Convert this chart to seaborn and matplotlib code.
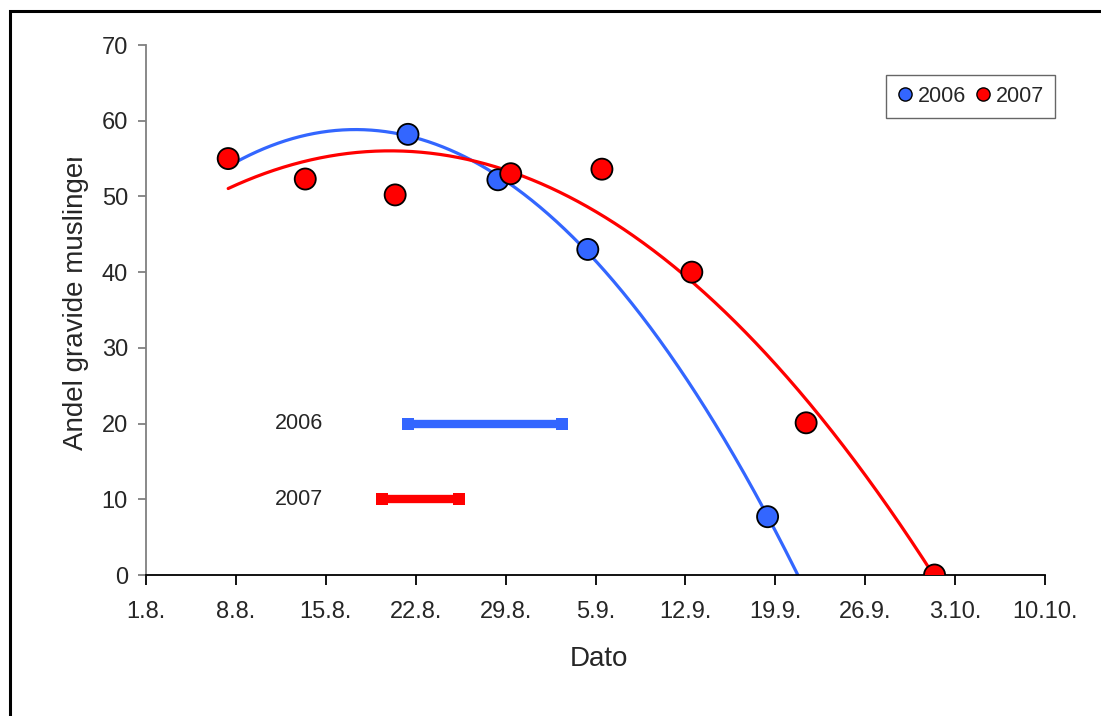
import numpy as np
import pandas as pd
import matplotlib
matplotlib.use("Agg")
import matplotlib.pyplot as plt
from matplotlib.patches import Rectangle
from matplotlib.lines import Line2D
from matplotlib.transforms import Bbox
import seaborn as sns

# ---- data (x = days after 1 August) ----
years = ["2006", "2007"]
days_2006 = [20.4, 27.4, 34.4, 48.4]
share_2006 = [58.2, 52.2, 43.0, 7.7]
days_2007 = [6.4, 12.4, 19.4, 28.4, 35.5, 42.5, 51.4, 61.4]
share_2007 = [55.0, 52.3, 50.2, 53.0, 53.6, 40.0, 20.1, 0.0]
period_2006 = [20.4, 32.4]
period_2007 = [18.4, 24.4]
period_levels = [20, 10]
tick_days = [0, 7, 14, 21, 28, 35, 42, 49, 56, 63, 70]
tick_labels = ["1.8.", "8.8.", "15.8.", "22.8.", "29.8.", "5.9.", "12.9.",
               "19.9.", "26.9.", "3.10.", "10.10."]
y_ticks = [0, 10, 20, 30, 40, 50, 60, 70]

BLUE = "#3366FF"
RED = "#FF0000"
colors = {"2006": BLUE, "2007": RED}

sns.set_style("white")
plt.rcParams["font.family"] = ["Liberation Sans", "DejaVu Sans"]

W, H = 1101, 716
fig = plt.figure(figsize=(W / 100, H / 100), dpi=100)
ax = fig.add_axes([146 / W, 1 - 575 / H, (1045 - 146) / W, (575 - 45) / H])

# ---- polynomial trend lines (order 2) ----
start = min(days_2006 + days_2007)
for yr, dx, dy in [("2006", days_2006, share_2006), ("2007", days_2007, share_2007)]:
    coef = np.polyfit(dx, dy, 2)
    grid = np.linspace(start, 70, 800)
    fit = np.polyval(coef, grid)
    keep = fit >= 0
    idx = np.argmax(~keep) if (~keep).any() else len(grid)
    sns.lineplot(x=grid[:idx], y=fit[:idx], color=colors[yr], lw=2.3,
                 ax=ax, zorder=2, legend=False)

# ---- data points ----
df = pd.DataFrame({
    "day": days_2006 + days_2007,
    "share": share_2006 + share_2007,
    "year": ["2006"] * len(days_2006) + ["2007"] * len(days_2007),
})
sns.scatterplot(data=df, x="day", y="share", hue="year", palette=colors,
                s=230, edgecolor="black", linewidth=1.3, zorder=3, ax=ax,
                legend=False)

# ---- period bars ----
for yr, per, lvl in [("2006", period_2006, period_levels[0]),
                     ("2007", period_2007, period_levels[1])]:
    sns.lineplot(x=per, y=[lvl, lvl], color=colors[yr], lw=6,
                 marker="s", markersize=8, markeredgewidth=0,
                 ax=ax, zorder=2, legend=False)
    ax.lines[-1].set_solid_capstyle("butt")
    ax.text(10.0, lvl, yr, ha="left", va="center", fontsize=15.5)

# ---- axes ----
ax.set_xlim(0, 70)
ax.set_ylim(0, 70)
ax.set_xticks(tick_days)
ax.set_xticklabels(tick_labels)
ax.set_yticks(y_ticks)
for s in ["top", "right"]:
    ax.spines[s].set_visible(False)
ax.spines["left"].set_color("#808080")
ax.spines["left"].set_linewidth(1.3)
ax.spines["bottom"].set_color("black")
ax.spines["bottom"].set_linewidth(1.3)
ax.tick_params(axis="y", direction="out", length=6, width=1.3,
               color="#808080", pad=7, labelsize=17, left=True)
ax.tick_params(axis="x", direction="out", length=7, width=1.3,
               color="black", pad=12, labelsize=17, bottom=True)
ax.set_xlabel("Dato", fontsize=20)
ax.set_ylabel("Andel gravide muslinger", fontsize=20)
ax.xaxis.set_label_coords((599 - 146) / 899, (575 - 646) / 530)
ax.yaxis.set_label_coords((89 - 146) / 899, 0.516)
ylab = ax.yaxis.label
ylab.set_clip_box(Bbox.from_extents(0, 0, W, H - 158))
ylab.set_clip_on(True)

# ---- legend ----
handles = [Line2D([], [], ls="none", marker="o", markersize=9.5,
                  markerfacecolor=colors[y], markeredgecolor="black",
                  markeredgewidth=1.0) for y in years]
leg = ax.legend(handles, years, ncol=2, loc="upper right",
                bbox_to_anchor=(1055 / W, 1 - 75 / H),
                bbox_transform=fig.transFigure, frameon=True, fancybox=False,
                fontsize=15.5, handlelength=0.7, handletextpad=0.25,
                columnspacing=0.45, borderpad=0.5, borderaxespad=0)
leg.get_frame().set_edgecolor("#404040")
leg.get_frame().set_linewidth(1.0)

# ---- outer border ----
fig.patches.append(Rectangle((10 / W, -0.2), 1.5, 1 - 11 / H + 0.2,
                             transform=fig.transFigure, fill=False,
                             edgecolor="black", lw=2.2, zorder=10))

fig.savefig("out.png", dpi=100)
